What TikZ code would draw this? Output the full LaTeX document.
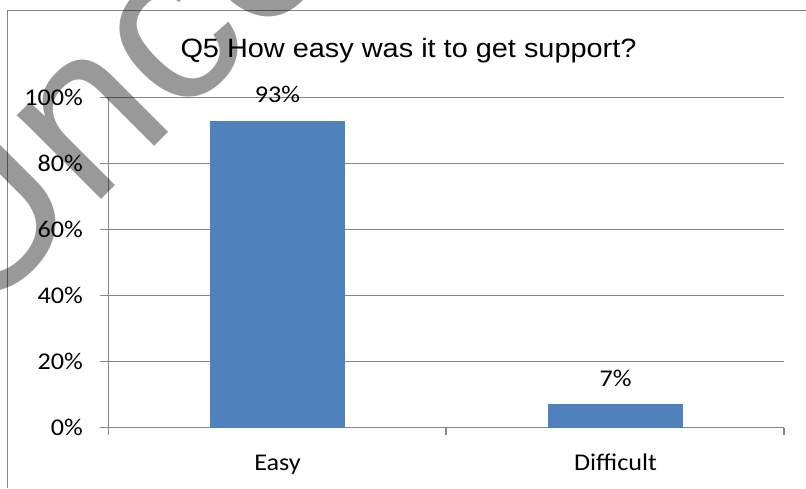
\documentclass[tikz,border=0pt]{standalone}
\usepackage{fontspec}
\usepackage{graphicx}
\setmainfont{Carlito}
\newfontfamily\arialf{Liberation Sans}
\newcommand\hstr[1]{\scalebox{1.09}[1]{#1}}
\definecolor{barblue}{HTML}{4F81BD}
\definecolor{gridgray}{HTML}{868686}
\tikzset{
  gridline/.style={draw=gridgray, line width=1.1pt},
  axisline/.style={draw=gridgray, line width=1.1pt},
  framebox/.style={draw=gridgray, line width=1pt},
  ylab/.style={anchor=east, inner sep=0pt, font=\fontsize{24}{28}\selectfont},
  xlab/.style={anchor=base, inner sep=0pt, font=\fontsize{24}{28}\selectfont},
  vlab/.style={anchor=center, inner sep=0pt, font=\fontsize{24}{28}\selectfont},
  barbox/.style={fill=barblue, draw=none, anchor=south, minimum width=135pt, inner sep=0pt, outer sep=0pt},
  titletext/.style={anchor=base, inner sep=0pt, font=\arialf\fontsize{26.5}{30}\selectfont},
  watermark/.style={anchor=base west, inner sep=0pt, text=black, text opacity=0.4, font=\arialf\fontsize{225}{240}\selectfont}
}
\begin{document}
\begin{tikzpicture}[x=1pt,y=-1pt]
\useasboundingbox (0,0) rectangle (806,488);
\fill[white] (0,0) rectangle (806,488);
% chart frame
\coordinate (fbl) at (7,488);
\coordinate (ftl) at (7,10.5);
\coordinate (ftr) at (806,10.5);
\draw[framebox] (fbl) -- (ftl) -- (ftr);
% title
\node[titletext] (title) at (408.5,57) {\hstr{Q5 How easy was it to get support?}};
% gridlines and y labels
\foreach \i/\yy in {0/427.5,1/361.5,2/295.5,3/229.5,4/163.5,5/97.5}{
  \coordinate (gl\i) at (100,\yy);
  \coordinate (gr\i) at (784,\yy);
  \pgfmathtruncatemacro{\pc}{\i*20}
  \node[ylab] (yl\i) at (83,\yy) {\hstr{\pc\%}};
}
\foreach \i in {1,...,5}{ \draw[gridline] (gl\i) -- (gr\i); }
% axes
\coordinate (yaxtop) at (108.5,97.5);
\coordinate (yaxbot) at (108.5,435);
\draw[axisline] (yaxtop) -- (yaxbot);
\draw[axisline] (gl0) -- (gr0);
\coordinate (tm1) at (446,427.5);
\coordinate (tm2) at (446,435);
\coordinate (tr1) at (784,427.5);
\coordinate (tr2) at (784,435);
\draw[axisline] (tm1) -- (tm2);
\draw[axisline] (tr1) -- (tr2);
% bars
\node[barbox, minimum height=306.9pt] (bar1) at (277.5,427.5) {};
\node[barbox, minimum height=23.1pt] (bar2) at (615.5,427.5) {};
\node[vlab] (v1) at ([yshift=26pt]bar1.north) {\hstr{93\%}};
\node[vlab] (v2) at ([yshift=26pt]bar2.north) {\hstr{7\%}};
% category labels
\node[xlab] (c1) at (277.5,470) {\hstr{Easy}};
\node[xlab] (c2) at (615.5,470) {\hstr{Difficult}};
% watermark
\node[watermark, rotate=45] (wm) at (-25,326) {Uncontrolled};
\end{tikzpicture}
\end{document}
